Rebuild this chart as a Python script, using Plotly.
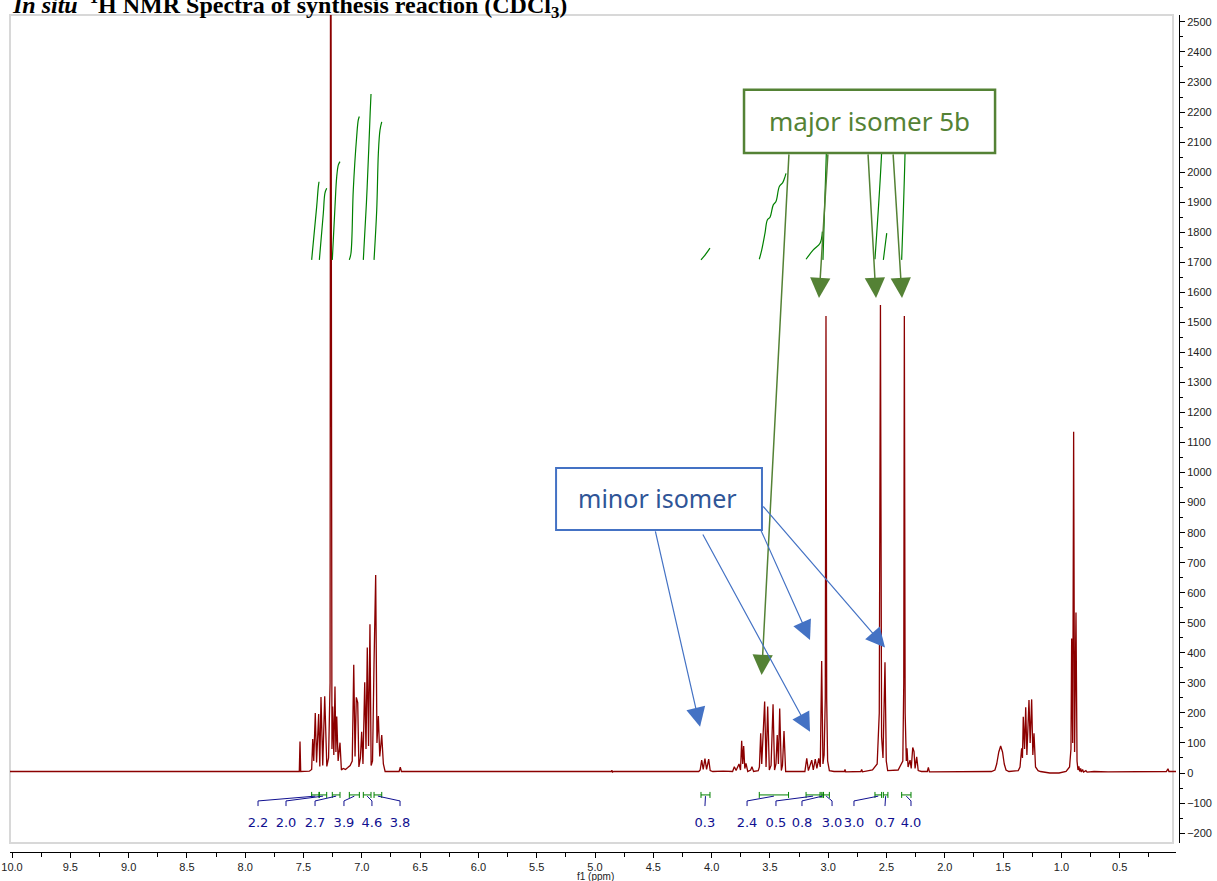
import plotly.graph_objects as go

# ---------------- data ----------------
spec_ppm = [10.02, 7.56, 7.536, 7.530, 7.524, 7.45, 7.43, 7.421, 7.412, 7.399, 7.388, 7.370, 7.360, 7.350, 7.335,
            7.318, 7.300, 7.285, 7.272, 7.267, 7.262, 7.256, 7.250, 7.240, 7.230, 7.222, 7.215, 7.203, 7.187, 7.175,
            7.16, 7.14, 7.12, 7.10, 7.082, 7.069, 7.058, 7.047, 7.035, 7.025, 7.012, 7.001, 6.990, 6.975, 6.964,
            6.953, 6.942, 6.930, 6.920, 6.908, 6.895, 6.881, 6.870, 6.858, 6.846, 6.829, 6.815, 6.800, 6.680, 6.670,
            6.660, 4.86, 4.855, 4.850, 4.84, 4.11, 4.098, 4.085, 4.072, 4.057, 4.043, 4.025, 4.012, 3.99, 3.90,
            3.82, 3.805, 3.790, 3.765, 3.752, 3.742, 3.733, 3.725, 3.715, 3.705, 3.690, 3.665, 3.654, 3.640, 3.60,
            3.590, 3.579, 3.570, 3.557, 3.545, 3.533, 3.519, 3.505, 3.490, 3.473, 3.460, 3.448, 3.437, 3.427, 3.416,
            3.402, 3.392, 3.379, 3.365, 3.20, 3.184, 3.170, 3.141, 3.128, 3.111, 3.097, 3.081, 3.068, 3.056, 3.045,
            3.035, 3.025, 3.019, 3.013, 3.005, 2.99, 2.95, 2.86, 2.856, 2.850, 2.72, 2.713, 2.706, 2.62, 2.58,
            2.562, 2.552, 2.542, 2.530, 2.513, 2.502, 2.49, 2.40, 2.36, 2.352, 2.347, 2.340, 2.330, 2.324, 2.315,
            2.298, 2.288, 2.275, 2.264, 2.255, 2.241, 2.228, 2.20, 2.150, 2.141, 2.132, 1.60, 1.57, 1.555, 1.537,
            1.521, 1.505, 1.490, 1.475, 1.45, 1.37, 1.355, 1.341, 1.334, 1.327, 1.316, 1.306, 1.296, 1.286, 1.278,
            1.268, 1.255, 1.245, 1.235, 1.222, 1.20, 1.18, 1.10, 1.02, 0.96, 0.930, 0.918, 0.912, 0.903, 0.895,
            0.887, 0.875, 0.866, 0.858, 0.850, 0.843, 0.835, 0.828, 0.818, 0.810, 0.790, 0.78, 0.72, 0.60, 0.40,
            0.20, 0.10, 0.086, 0.078, 0.017]
spec_int = [5, 5, 5, 105, 5, 6, 12, 113, 40, 200, 35, 196, 22, 253, 25,
            255, 22, 50, 300, 3600, 300, 80, 221, 60, 288, 70, 188, 40, 101, 10,
            15, 12, 18, 25, 40, 360, 55, 252, 234, 20, 50, 137, 30, 302, 80,
            418, 90, 495, 25, 40, 368, 659, 100, 190, 55, 126, 30, 5, 5, 19,
            5, 5, 9, 3, 5, 5, 10, 43, 12, 48, 12, 46, 8, 5, 6,
            5, 21, 8, 30, 10, 107, 30, 90, 15, 32, 5, 10, 21, 5, 8,
            20, 132, 30, 149, 238, 20, 221, 10, 25, 229, 10, 30, 126, 30, 215,
            8, 25, 140, 5, 5, 49, 8, 43, 10, 46, 15, 49, 20, 373, 30,
            60, 250, 1521, 250, 40, 8, 5, 5, 12, 4, 5, 12, 4, 10, 30,
            200, 1558, 120, 50, 369, 40, 8, 10, 40, 300, 1521, 200, 40, 82, 20,
            43, 15, 85, 71, 15, 54, 8, 5, 5, 19, 4, 5, 10, 30, 70,
            90, 70, 30, 10, 5, 8, 20, 82, 50, 187, 80, 219, 60, 193, 243,
            100, 245, 60, 132, 20, 8, 5, 0, 0, 5, 20, 80, 448, 100, 1136,
            70, 534, 40, 10, 22, 5, 15, 3, 12, 3, 8, 3, 5, 4, 5,
            5, 5, 14, 5, 5]

# integral curves (ppm, height)
integral_ppm = [
    [7.430, 7.387, 7.373, 7.367],
    [7.364, 7.330, 7.316, 7.301],
    [7.253, 7.230, 7.215, 7.201, 7.187],
    [7.107, 7.093, 7.073, 7.044, 7.030, 7.021],
    [6.987, 6.960, 6.940, 6.928, 6.921],
    [6.895, 6.872, 6.858, 6.844, 6.829],
    [4.091, 4.060, 4.030, 4.014],
    [3.591, 3.570, 3.542, 3.522, 3.499, 3.471, 3.448, 3.419, 3.390, 3.370, 3.362],
    [3.190, 3.128, 3.070, 3.050],
    [3.045, 3.016, 3.008],
    [2.599, 2.542, 2.530],
    [2.527, 2.498],
    [2.370, 2.341, 2.335],
]
integral_val = [
    [1708, 1885, 1951, 1968],
    [1708, 1863, 1930, 1946],
    [1708, 1885, 1985, 2024, 2035],
    [1708, 1730, 1941, 2118, 2174, 2185],
    [1708, 1900, 2080, 2200, 2260],
    [1708, 1874, 2063, 2140, 2167],
    [1708, 1722, 1738, 1747],
    [1710, 1741, 1797, 1841, 1850, 1891, 1902, 1952, 1965, 1985, 1996],
    [1710, 1741, 1763, 1802],
    [1708, 2064, 2250],
    [1710, 2064, 2250],
    [1708, 1797],
    [1708, 2064, 2250],
]

# integration regions and labels
region_start = [7.430, 7.364, 7.253, 7.107, 6.987, 6.895, 4.091, 3.591, 3.190, 3.060, 3.045, 2.599, 2.527, 2.370]
region_end = [7.367, 7.301, 7.187, 7.021, 6.921, 6.829, 4.014, 3.340, 3.070, 3.040, 2.990, 2.542, 2.488, 2.290]
label_text = ["2.2", "2.0", "2.7", "3.9", "4.6", "3.8", "0.3", "2.4", "0.5", "0.8", "3.0", "3.0", "0.7", "4.0"]
label_ppm = [7.890, 7.650, 7.401, 7.153, 6.913, 6.672, 4.057, 3.696, 3.448, 3.225, 2.967, 2.779, 2.513, 2.290]
label_region = [0, 1, 2, 3, 4, 5, 6, 7, 8, 9, 10, 11, 12, 13]

x_ticks = [10.0, 9.5, 9.0, 8.5, 8.0, 7.5, 7.0, 6.5, 6.0, 5.5, 5.0, 4.5, 4.0, 3.5, 3.0, 2.5, 2.0, 1.5, 1.0, 0.5]
y_ticks = list(range(-200, 2501, 100))

# annotation arrows: (tail ppm, tail int, head ppm, head int)
green_arrows = [(3.336, 2064, 3.571, 326), (3.002, 2064, 3.079, 1581),
                (2.659, 2064, 2.590, 1581), (2.444, 2064, 2.367, 1581)]
blue_arrows = [(4.485, 809, 4.099, 154), (4.082, 799, 3.156, 137),
               (3.585, 815, 3.156, 443), (3.568, 892, 2.513, 418)]

# ---------------- figure ----------------
fig = go.Figure()

SPEC = "#8B0000"
GREEN = "#008000"
NAVY = "#101090"

fig.add_trace(go.Scatter(x=spec_ppm, y=spec_int, mode="lines",
                         line=dict(color=SPEC, width=1.3), hoverinfo="skip"))

for px, py in zip(integral_ppm, integral_val):
    fig.add_trace(go.Scatter(x=px, y=py, mode="lines", line=dict(color=GREEN, width=1.2, shape="spline"),
                             hoverinfo="skip"))

# green range markers
mx, my = [], []
for a, b in zip(region_start, region_end):
    mx += [a, a, None, a, b, None, b, b, None]
    my += [-63, -83, None, -73, -73, None, -63, -83, None]
fig.add_trace(go.Scatter(x=mx, y=my, mode="lines", line=dict(color=GREEN, width=1), hoverinfo="skip"))

# navy brackets
bx, by = [], []
for lp, ri in zip(label_ppm, label_region):
    c = (region_start[ri] + region_end[ri]) / 2
    bx += [lp, lp, c, None]
    by += [-110, -93, -77, None]
fig.add_trace(go.Scatter(x=bx, y=by, mode="lines", line=dict(color=NAVY, width=1), hoverinfo="skip"))

fig.add_trace(go.Scatter(x=label_ppm, y=[-168] * len(label_ppm), mode="text", text=label_text,
                         textfont=dict(family="DejaVu Sans", size=13, color=NAVY), hoverinfo="skip"))

annotations = []
for tx, ty, hx, hy in green_arrows:
    annotations.append(dict(x=hx, y=hy, ax=tx, ay=ty, xref="x", yref="y", axref="x", ayref="y",
                            showarrow=True, arrowhead=2, arrowsize=2.7, arrowwidth=1.5,
                            arrowcolor="#548235", standoff=0, text=""))
for tx, ty, hx, hy in blue_arrows:
    annotations.append(dict(x=hx, y=hy, ax=tx, ay=ty, xref="x", yref="y", axref="x", ayref="y",
                            showarrow=True, arrowhead=2, arrowsize=3.2, arrowwidth=1.2,
                            arrowcolor="#4472C4", standoff=0, text=""))

annotations.append(dict(x=2.650, y=2170, xref="x", yref="y", showarrow=False, text="major isomer 5b",
                        font=dict(family="Noto Sans", size=26, color="#548235")))
annotations.append(dict(x=4.468, y=915, xref="x", yref="y", showarrow=False, text="minor isomer",
                        font=dict(family="Noto Sans", size=25, color="#2F5597")))
annotations.append(dict(x=0.0, y=1.0121, xref="paper", yref="paper", xanchor="left", yanchor="middle",
                        showarrow=False,
                        text="<b><i>In situ</i>  <sup>1</sup>H NMR Spectra of synthesis reaction (CDCl<sub>3</sub>)</b>",
                        font=dict(family="Liberation Serif", size=24, color="black")))
annotations.append(dict(x=5.0, y=-0.0287, xref="x", yref="paper", yanchor="middle", showarrow=False,
                        text="f1 (ppm)", font=dict(family="Liberation Sans", size=10, color="#222")))

shapes = [
    dict(type="rect", xref="paper", yref="paper", x0=0.0, x1=0.99487, y0=0.01075, y1=1.0,
         line=dict(color="#d8d8d8", width=2), layer="below"),
    dict(type="rect", xref="x", yref="y", x0=3.722, x1=1.569, y0=2064, y1=2274,
         line=dict(color="#548235", width=2.5), fillcolor="white", layer="above"),
    dict(type="rect", xref="x", yref="y", x0=5.334, x1=3.568, y0=809, y1=1015,
         line=dict(color="#4472C4", width=2), fillcolor="white", layer="above"),
]

fig.update_layout(
    width=1217, height=881,
    margin=dict(l=10, r=38, t=15, b=29),
    paper_bgcolor="white", plot_bgcolor="white",
    showlegend=False,
    annotations=annotations, shapes=shapes,
    xaxis=dict(range=[10.01715, 0.0172], domain=[0, 0.99743], anchor="free", position=0,
               automargin=False,
               showgrid=False, zeroline=False, showline=True, linecolor="black", linewidth=1,
               ticks="outside", ticklen=5, tickcolor="black", tickvals=x_ticks,
               ticktext=[f"{v:.1f}" for v in x_ticks],
               minor=dict(ticks="outside", ticklen=4, tickcolor="black", dtick=0.25, tick0=0),
               tickfont=dict(family="Liberation Sans", size=11, color="#222")),
    yaxis=dict(range=[-233, 2523], domain=[0.01075, 1], anchor="free", position=1, side="right",
               automargin=False,
               showgrid=False, zeroline=False, showline=True, linecolor="black", linewidth=1,
               ticks="outside", ticklen=5, tickcolor="black", tickvals=y_ticks,
               minor=dict(ticks="outside", ticklen=3, tickcolor="black", dtick=50, tick0=0),
               tickfont=dict(family="Liberation Sans", size=11, color="#222")),
)

fig.write_html("out.html")
